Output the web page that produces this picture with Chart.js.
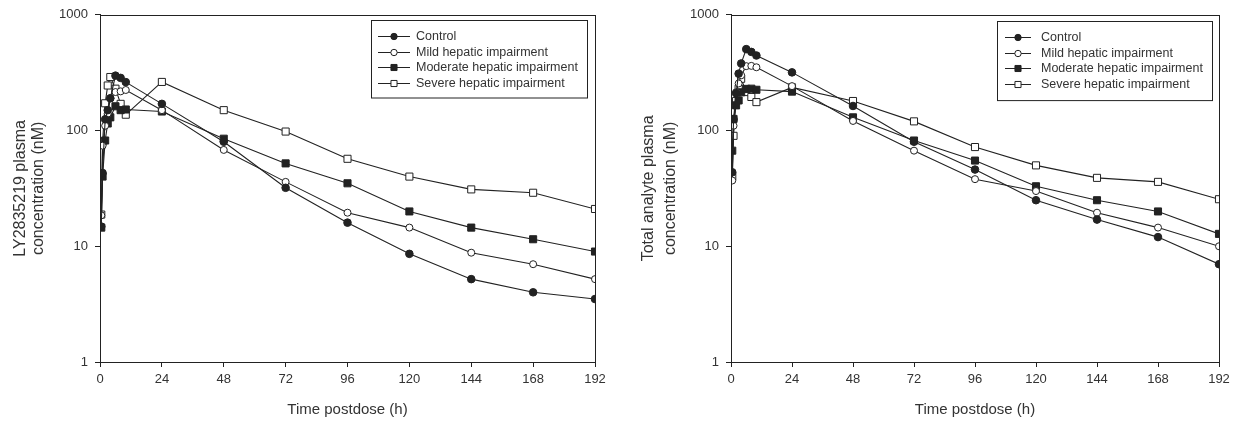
<!DOCTYPE html>
<html>
<head>
<meta charset="utf-8">
<script src="https://cdn.jsdelivr.net/npm/chart.js@4.4.1/dist/chart.umd.min.js"></script>
<style>
  body { margin: 0; background: #fff; }
  .wrap { position: relative; width: 1237px; height: 423px; }
  canvas { position: absolute; top: 0; }
  #leftChart { left: 0; }
  #rightChart { left: 618px; }
</style>
</head>
<body>
<div class="wrap">
  <canvas id="leftChart" width="618" height="423"></canvas>
  <canvas id="rightChart" width="619" height="423"></canvas>
</div>
<script>
// sampling times (h)
const times = [0.5, 1, 2, 3, 4, 6, 8, 10, 24, 48, 72, 96, 120, 144, 168, 192];
const groups = ['Control', 'Mild hepatic impairment', 'Moderate hepatic impairment', 'Severe hepatic impairment'];
const xTicks = [0, 24, 48, 72, 96, 120, 144, 168, 192];
const yTicks = [1, 10, 100, 1000];

// LY2835219 plasma concentration (nM)
const lyControl  = [14.8, 43, 125, 150, 190, 298, 285, 262, 170, 80, 32, 16, 8.6, 5.2, 4.0, 3.5];
const lyMild     = [18.5, 74, 110, 140, 190, 215, 218, 224, 150, 68, 36, 19.5, 14.5, 8.8, 7.0, 5.2];
const lyModerate = [14.5, 40, 82, 115, 130, 162, 150, 152, 146, 85, 52, 35, 20, 14.5, 11.5, 9.0];
const lySevere   = [18.8, 80, 172, 245, 290, 230, 170, 137, 263, 150, 98, 57, 40, 31, 29, 21];

// total analyte plasma concentration (nM)
const taControl  = [43.6, 125, 210, 310, 380, 505, 478, 445, 318, 163, 80, 46, 25, 17, 12, 7.0];
const taMild     = [37, 110, 214, 255, 300, 360, 362, 352, 242, 121, 67, 38, 30, 19.5, 14.5, 10.0];
const taModerate = [67, 126, 165, 182, 214, 229, 230, 225, 217, 130, 82, 55, 33, 25, 20, 12.8];
const taSevere   = [40, 90, 180, 230, 280, 215, 195, 176, 236, 180, 120, 72, 50, 39, 36, 25.5];

const FONT = "'Liberation Sans', Arial, sans-serif";
const INK = '#222';

const markers = [
  { pointStyle: 'circle', pointRadius: 3.8, pointBackgroundColor: INK },
  { pointStyle: 'circle', pointRadius: 3.5, pointBackgroundColor: '#fff' },
  { pointStyle: 'rect', pointRadius: 5, pointBackgroundColor: INK },
  { pointStyle: 'rect', pointRadius: 5, pointBackgroundColor: '#fff' }
];

function makeDatasets(series) {
  return series.map((vals, i) => Object.assign({
    label: groups[i],
    data: times.map((t, k) => ({ x: t, y: vals[k] })),
    borderColor: INK,
    borderWidth: 1.1,
    pointBorderColor: INK,
    pointBorderWidth: 1,
    fill: false,
    tension: 0
  }, markers[i]));
}

// frame around plot area (SigmaPlot style box)
const frame = {
  id: 'frame',
  afterDatasetsDraw(chart) {
    const { ctx, chartArea: a } = chart;
    ctx.save();
    ctx.strokeStyle = INK;
    ctx.lineWidth = 1;
    ctx.strokeRect(Math.round(a.left) + 0.5, Math.round(a.top) + 0.5, Math.round(a.right - a.left), Math.round(a.bottom - a.top));
    ctx.restore();
  }
};

// legend in a box at the top right of the plot
const boxLegend = {
  id: 'boxLegend',
  afterDraw(chart, args, o) {
    const { ctx, chartArea: a } = chart;
    const sets = chart.data.datasets;
    ctx.save();
    ctx.font = o.fontSize + 'px ' + FONT;
    const textW = Math.max(...sets.map(d => ctx.measureText(d.label).width));
    const w = o.padLeft + o.lineLen + o.gap + textW + o.padRight;
    const h = o.firstRow + o.rowH * (sets.length - 1) + o.lastPad;
    const x0 = Math.round(a.right - o.right - w);
    const y0 = Math.round(a.top + o.top);
    ctx.fillStyle = '#fff';
    ctx.fillRect(x0, y0, w, h);
    ctx.strokeStyle = INK;
    ctx.lineWidth = 1;
    ctx.strokeRect(x0 + 0.5, y0 + 0.5, Math.round(w), h);
    sets.forEach((d, i) => {
      const y = Math.round(y0 + o.firstRow + o.rowH * i) + 0.5;
      const lx = x0 + o.padLeft;
      ctx.beginPath();
      ctx.moveTo(lx, y);
      ctx.lineTo(lx + o.lineLen, y);
      ctx.strokeStyle = INK;
      ctx.stroke();
      ctx.fillStyle = d.pointBackgroundColor;
      ctx.strokeStyle = INK;
      Chart.helpers.drawPoint(ctx, {
        pointStyle: d.pointStyle,
        radius: d.pointStyle === 'rect' ? 4.3 : 3.2,
        borderWidth: 1,
        rotation: 0
      }, lx + o.lineLen / 2, y);
      ctx.fillStyle = '#333';
      ctx.textBaseline = 'middle';
      ctx.textAlign = 'left';
      ctx.fillText(d.label, lx + o.lineLen + o.gap, y);
    });
    ctx.restore();
  }
};

function makeChart(id, series, yTitle, cfg) {
  return new Chart(document.getElementById(id), {
    type: 'line',
    data: { datasets: makeDatasets(series) },
    options: {
      responsive: false,
      animation: false,
      layout: { padding: { left: 0, top: cfg.top, right: cfg.right, bottom: 0 } },
      plugins: {
        legend: { display: false },
        tooltip: { enabled: false },
        boxLegend: cfg.legend
      },
      scales: {
        x: {
          type: 'linear',
          min: 0,
          max: 192,
          afterBuildTicks: s => { s.ticks = xTicks.map(v => ({ value: v })); },
          afterFit: s => { s.height = 61; },
          grid: { drawOnChartArea: false, drawTicks: true, tickLength: 5, color: INK },
          border: { color: INK, width: 1 },
          ticks: { color: '#333', padding: 5, maxRotation: 0, font: { family: FONT, size: 13 } },
          title: {
            display: true,
            text: 'Time postdose (h)',
            color: '#333',
            font: { family: FONT, size: 15 },
            padding: { top: 0, bottom: 4 }
          }
        },
        y: {
          type: 'logarithmic',
          min: 1,
          max: 1000,
          afterBuildTicks: s => { s.ticks = yTicks.map(v => ({ value: v })); },
          afterFit: s => { s.width = cfg.yWidth; },
          grid: { drawOnChartArea: false, drawTicks: true, tickLength: 5, color: INK },
          border: { color: INK, width: 1 },
          ticks: {
            color: '#333',
            padding: 7,
            font: { family: FONT, size: 13 },
            callback: v => String(v)
          },
          title: {
            display: true,
            text: yTitle,
            color: '#333',
            font: { family: FONT, size: 16, lineHeight: cfg.titleLH },
            padding: { top: cfg.titlePad, bottom: 0 }
          }
        }
      }
    },
    plugins: [frame, boxLegend]
  });
}

makeChart('leftChart', [lyControl, lyMild, lyModerate, lySevere],
  ['LY2835219 plasma', 'concentration (nM)'],
  {
    top: 14, right: 23, yWidth: 100, titleLH: '18px', titlePad: 12,
    legend: { fontSize: 12.5, top: 5, right: 8, padLeft: 7, lineLen: 32, gap: 6, padRight: 9, firstRow: 16, rowH: 15.5, lastPad: 15 }
  });

makeChart('rightChart', [taControl, taMild, taModerate, taSevere],
  ['Total analyte plasma', 'concentration (nM)'],
  {
    top: 13, right: 18, yWidth: 113, titleLH: '22px', titlePad: 20,
    legend: { fontSize: 12.5, top: 6, right: 7, padLeft: 8, lineLen: 26, gap: 10, padRight: 9, firstRow: 16, rowH: 15.7, lastPad: 16 }
  });
</script>
</body>
</html>
